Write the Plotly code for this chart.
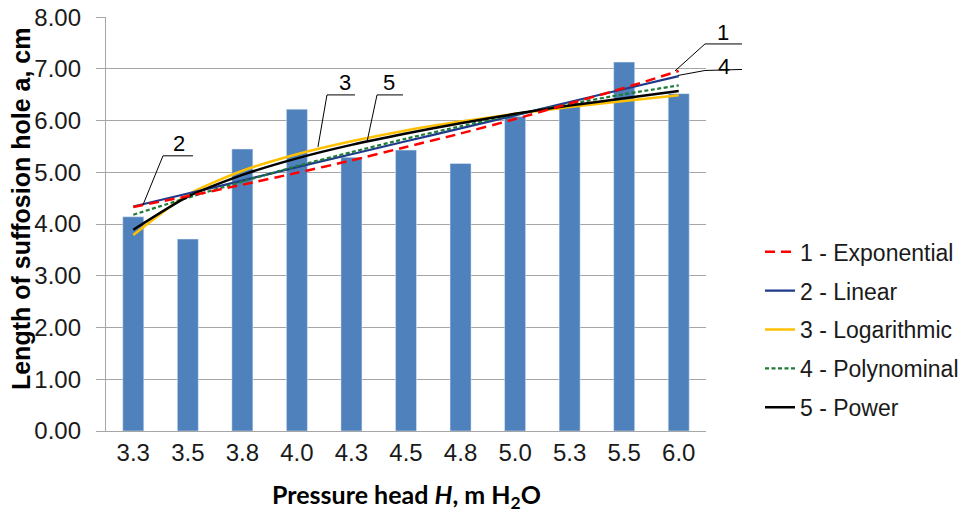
import plotly.graph_objects as go

# ---- data ----
categories = ["3.3", "3.5", "3.8", "4.0", "4.3", "4.5", "4.8", "5.0", "5.3", "5.5", "6.0"]
hole_length = [4.14, 3.71, 5.45, 6.22, 5.29, 5.43, 5.17, 6.08, 6.28, 7.13, 6.52]

exponential = [4.33, 4.54, 4.76, 4.99, 5.23, 5.49, 5.75, 6.03, 6.33, 6.63, 6.96]
linear = [4.34, 4.59, 4.84, 5.10, 5.35, 5.60, 5.85, 6.10, 6.36, 6.61, 6.86]
logarithmic = [3.79, 4.57, 5.03, 5.35, 5.60, 5.81, 5.98, 6.13, 6.26, 6.38, 6.49]
polynomial = [4.18, 4.51, 4.82, 5.12, 5.39, 5.65, 5.89, 6.12, 6.32, 6.51, 6.68]
power = [3.89, 4.53, 4.95, 5.27, 5.53, 5.75, 5.95, 6.13, 6.29, 6.43, 6.57]

y_ticks = [0, 1, 2, 3, 4, 5, 6, 7, 8]

FONT = "Liberation Sans, Arial, sans-serif"

fig = go.Figure()
fig.add_trace(go.Bar(x=categories, y=hole_length, marker_color="#4F81BD",
                     showlegend=False, hoverinfo="y"))

trend = [
    # name, values, color, dash, width, legendrank
    ("3 - Logarithmic", logarithmic, "#FFC000", "solid", 2.5, 3),
    ("2 - Linear", linear, "#1F3A8A", "solid", 2.2, 2),
    ("4 - Polynominal", polynomial, "#1E7B34", "4px,2.5px", 2.2, 4),
    ("5 - Power", power, "#000000", "solid", 2.5, 5),
    ("1 - Exponential", exponential, "#FF0000", "10px,6px", 2.5, 1),
]
for name, vals, col, dash, w, rank in trend:
    fig.add_trace(go.Scatter(x=categories, y=vals, mode="lines", name=name,
                             line=dict(color=col, dash=dash, width=w, shape="spline", smoothing=0.6),
                             legendrank=rank, legendgroup=name))

GRID = "#A6A6A6"
fig.update_layout(
    width=976, height=513,
    margin=dict(l=106, r=270, t=17, b=82, autoexpand=False),
    paper_bgcolor="white", plot_bgcolor="white",
    font=dict(family=FONT, size=24, color="#1a1a1a"),
    bargap=0.615,
    showlegend=True,
    legend=dict(x=1.09, y=0.485, xanchor="left", yanchor="top",
                font=dict(family=FONT, size=23, color="#1a1a1a"),
                tracegroupgap=6, bgcolor="rgba(0,0,0,0)"),
    xaxis=dict(type="category", showgrid=False, showline=True, linecolor=GRID, linewidth=1.3,
               ticks="", tickfont=dict(size=24), title=None),
    yaxis=dict(range=[0, 8.002], tickvals=y_ticks, tickformat=".2f", showgrid=True,
               gridcolor=GRID, gridwidth=1.3, showline=True, linecolor=GRID, linewidth=1.3,
               ticks="outside", ticklen=9, tickcolor=GRID, tickwidth=1.3,
               ticklabelstandoff=10, tickfont=dict(size=24), zeroline=False, title=None,
               ticklabeloverflow="allow"),
)

# axis titles
fig.add_annotation(text="Length of suffosion hole a, cm", textangle=-90, xref="paper", yref="paper",
                   x=-0.142, y=0.538, xanchor="center", yanchor="middle", showarrow=False,
                   font=dict(family=FONT, size=25, color="#000000", weight="bold"))
fig.add_annotation(text="Pressure head <i>H</i>, m H<sub>2</sub>O", xref="paper", yref="paper",
                   x=0.5, y=-0.158, xanchor="center", yanchor="middle", showarrow=False,
                   font=dict(family="Lato, sans-serif", size=25, color="#000000", weight="bold"))

# callout labels with leader lines (paper coords)
callouts = [
    ("2", (0.1217, 0.6936), [(0.145, 0.6647), (0.095, 0.6647), (0.0617, 0.5464)]),
    ("3", (0.3983, 0.8408), [(0.415, 0.8118), (0.3683, 0.8118), (0.3533, 0.6864)]),
    ("5", (0.4717, 0.8408), [(0.495, 0.8118), (0.4517, 0.8118), (0.435, 0.6984)]),
    ("1", (1.0283, 0.9614), [(1.06, 0.9349), (0.9983, 0.9349), (0.9483, 0.8697)]),
    ("4", (1.03, 0.8794), [(1.06, 0.8733), (0.9983, 0.8708), (0.9533, 0.8588)]),
]
for label, (tx, ty), pts in callouts:
    fig.add_annotation(text=label, xref="paper", yref="paper", x=tx, y=ty, showarrow=False,
                       xanchor="center", yanchor="middle",
                       font=dict(family=FONT, size=22, color="#000000"))
    for (x0, y0), (x1, y1) in zip(pts[:-1], pts[1:]):
        fig.add_shape(type="line", xref="paper", yref="paper", x0=x0, y0=y0, x1=x1, y1=y1,
                      line=dict(color="#000000", width=1))

fig.write_html("out.html", config={"displayModeBar": False},
               post_script="document.body.style.margin='0';")
